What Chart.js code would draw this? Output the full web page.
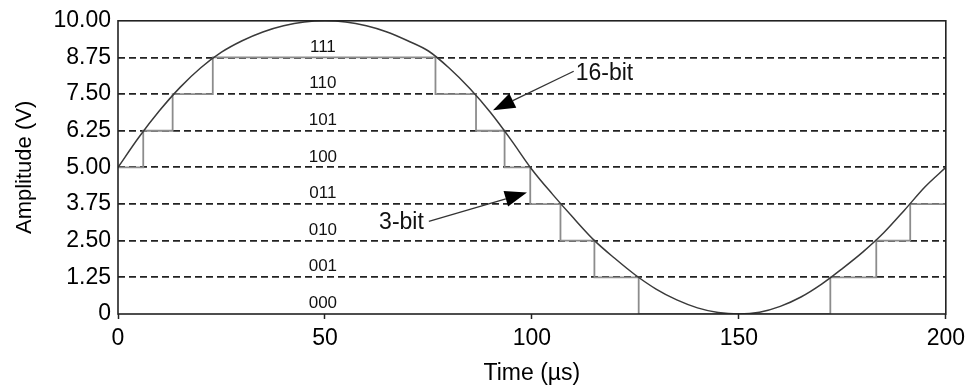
<!DOCTYPE html>
<html>
<head>
<meta charset="utf-8">
<script src="https://cdn.jsdelivr.net/npm/chart.js@4.4.1/dist/chart.umd.min.js"></script>
<style>
  html, body { margin: 0; padding: 0; background: #fff; }
  #wrap { width: 971px; height: 388px; position: relative; }
</style>
</head>
<body>
<div id="wrap"><canvas id="myChart"></canvas></div>
<script>
// 16-bit signal, every 5 µs
const timeUs = [0, 5, 10, 15, 20, 25, 30, 35, 40, 45, 50, 55, 60, 65, 70, 75, 80, 85, 90, 95, 100,
    105, 110, 115, 120, 125, 130, 135, 140, 145, 150, 155, 160, 165, 170, 175, 180, 185, 190, 195, 200];
const amp16 = [5.00, 6.02, 6.93, 7.73, 8.40, 8.93, 9.32, 9.62, 9.83, 9.96, 10.00, 9.96, 9.83, 9.62, 9.32, 8.97, 8.39, 7.69, 6.87, 5.93, 4.93,
    4.08, 3.28, 2.52, 1.90, 1.33, 0.85, 0.48, 0.21, 0.05, 0.00, 0.06, 0.26, 0.58, 1.02, 1.55, 2.12, 2.77, 3.54, 4.34, 5.00];

// 3-bit staircase: time where each level starts, and the level
const stepTimes = [0, 6.1, 13.2, 22.9, 76.7, 86.5, 93.4, 99.6, 106.9, 115.1, 125.8, 172.1, 183.2, 191.4, 200];
const stepLevels = [5.00, 6.25, 7.50, 8.75, 7.50, 6.25, 5.00, 3.75, 2.50, 1.25, 0, 1.25, 2.50, 3.75, 3.75];

// Code words and the lower level of their band
const codeLabels = ['000', '001', '010', '011', '100', '101', '110', '111'];
const codeLevels = [0, 1.25, 2.50, 3.75, 5.00, 6.25, 7.50, 8.75];
const codeTime = 49.5;

// Tick labels
const yTickLabels = ['0', '1.25', '2.50', '3.75', '5.00', '6.25', '7.50', '8.75', '10.00'];
const xTickLabels = ['0', '50', '100', '150', '200'];

// Arrow callouts (data coords)
const callouts = [
    { text: '16-bit', tail: [110.1, 8.28], tip: [90.6, 6.95], side: 'right' },
    { text: '3-bit', tail: [75.1, 3.16], tip: [98.8, 4.14], side: 'left' }
];

const FONT = '"Liberation Sans", Arial, Helvetica, sans-serif';
const INK = '#222';

// Frame, code words and callouts
const extrasPlugin = {
    id: 'extras',
    afterDatasetsDraw(chart) {
        const { ctx, chartArea: a, scales: { x, y } } = chart;
        ctx.save();

        ctx.strokeStyle = INK;
        ctx.lineWidth = 1.6;
        ctx.strokeRect(a.left, a.top, a.right - a.left, a.bottom - a.top);

        ctx.fillStyle = '#111';
        ctx.font = `17px ${FONT}`;
        ctx.textAlign = 'center';
        ctx.textBaseline = 'middle';
        codeLabels.forEach((lbl, i) => {
            ctx.fillText(lbl, x.getPixelForValue(codeTime), y.getPixelForValue(codeLevels[i] + 0.36));
        });

        ctx.font = `23px ${FONT}`;
        callouts.forEach(c => {
            const tx = x.getPixelForValue(c.tail[0]), ty = y.getPixelForValue(c.tail[1]);
            const px = x.getPixelForValue(c.tip[0]), py = y.getPixelForValue(c.tip[1]);
            const ang = Math.atan2(py - ty, px - tx);
            const hl = 22, hw = 8;
            const bx = px - hl * Math.cos(ang), by = py - hl * Math.sin(ang);

            ctx.strokeStyle = '#333';
            ctx.lineWidth = 1.3;
            ctx.beginPath();
            ctx.moveTo(tx, ty);
            ctx.lineTo(bx, by);
            ctx.stroke();

            ctx.fillStyle = '#000';
            ctx.beginPath();
            ctx.moveTo(px, py);
            ctx.lineTo(bx + hw * Math.sin(ang), by - hw * Math.cos(ang));
            ctx.lineTo(bx - hw * Math.sin(ang), by + hw * Math.cos(ang));
            ctx.closePath();
            ctx.fill();

            ctx.fillStyle = '#111';
            if (c.side === 'right') {
                ctx.textAlign = 'left';
                ctx.fillText(c.text, tx + 2, ty + 2);
            } else {
                ctx.textAlign = 'right';
                ctx.fillText(c.text, tx - 5, ty + 1);
            }
        });

        ctx.restore();
    }
};

const config = {
    type: 'line',
    data: {
        datasets: [
            {
                label: '16-bit',
                data: timeUs.map((t, i) => ({ x: t, y: amp16[i] })),
                borderColor: '#3a3a3a',
                borderWidth: 1.5,
                pointRadius: 0,
                cubicInterpolationMode: 'monotone',
                fill: false
            },
            {
                label: '3-bit',
                data: stepTimes.map((t, i) => ({ x: t, y: stepLevels[i] })),
                borderColor: '#8c8c8c',
                borderWidth: 1.8,
                pointRadius: 0,
                stepped: 'before',
                fill: false
            }
        ]
    },
    options: {
        responsive: true,
        maintainAspectRatio: false,
        animation: false,
        events: [],
        layout: {
            padding: { left: 0, right: 25, top: 19, bottom: 0 }
        },
        plugins: {
            legend: { display: false },
            tooltip: { enabled: false }
        },
        scales: {
            x: {
                type: 'linear',
                min: 0,
                max: 200,
                afterFit: (scale) => { scale.height = 74; },
                grid: {
                    drawOnChartArea: false,
                    drawTicks: true,
                    tickLength: 5,
                    tickColor: INK,
                    tickWidth: 1.5
                },
                border: { display: false },
                ticks: {
                    stepSize: 50,
                    padding: 6,
                    color: '#000',
                    font: { family: FONT, size: 23 },
                    callback: (v) => xTickLabels[v / 50]
                },
                title: {
                    display: true,
                    text: 'Time (µs)',
                    color: '#000',
                    font: { family: FONT, size: 23 },
                    padding: { top: 0, bottom: 1 }
                }
            },
            y: {
                min: 0,
                max: 10,
                afterFit: (scale) => { scale.width = 118; },
                grid: {
                    drawTicks: false,
                    lineWidth: 1.8,
                    color: (c) => (c.tick && (c.tick.value === 0 || c.tick.value === 10)) ? 'rgba(0,0,0,0)' : INK
                },
                border: { display: false, dash: [7, 4] },
                ticks: {
                    stepSize: 1.25,
                    padding: 7,
                    color: '#000',
                    font: { family: FONT, size: 23 },
                    callback: (v) => yTickLabels[Math.round(v / 1.25)]
                },
                title: {
                    display: true,
                    text: 'Amplitude (V)',
                    color: '#000',
                    font: { family: FONT, size: 22 },
                    padding: { top: 12, bottom: 0 }
                }
            }
        }
    },
    plugins: [extrasPlugin]
};

const ctx = document.getElementById('myChart').getContext('2d');
new Chart(ctx, config);
</script>
</body>
</html>
